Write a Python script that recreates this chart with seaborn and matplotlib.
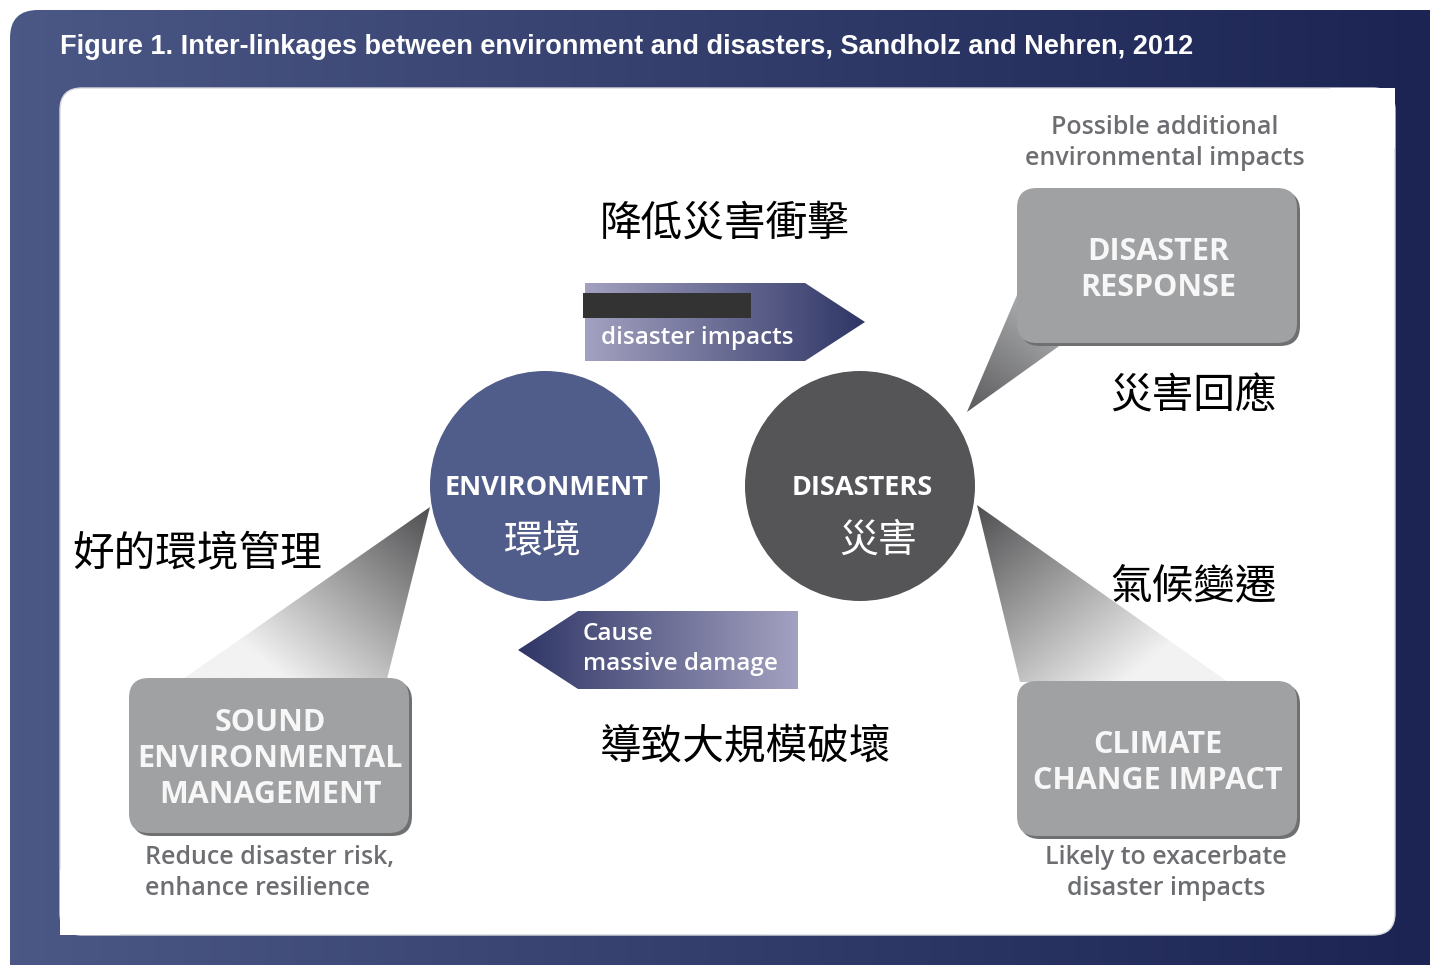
import numpy as np
import matplotlib
matplotlib.use("Agg")
import matplotlib.pyplot as plt
from matplotlib.patches import Polygon, Circle, FancyBboxPatch, Rectangle
import seaborn as sns

# Text content of the diagram
title = "Figure 1. Inter-linkages between environment and disasters, Sandholz and Nehren, 2012"
circle_labels = ["ENVIRONMENT", "DISASTERS"]
circle_labels_zh = ["環境", "災害"]
box_labels = ["DISASTER\nRESPONSE", "SOUND\nENVIRONMENTAL\nMANAGEMENT", "CLIMATE\nCHANGE IMPACT"]
box_captions = ["Possible additional\nenvironmental impacts",
                "Reduce disaster risk,\nenhance resilience",
                "Likely to exacerbate\ndisaster impacts"]
arrow_labels = ["disaster impacts", "Cause\nmassive damage"]
zh_labels = ["降低災害衝擊", "災害回應", "好的環境管理", "氣候變遷", "導致大規模破壞"]

sns.set_style("white")
plt.rcParams["font.family"] = ["Open Sans", "DejaVu Sans"]
ZH = ["Noto Sans CJK TC", "DejaVu Sans"]

fig = plt.figure(figsize=(14.3, 9.65), dpi=100)
ax = fig.add_axes([0, 0, 1, 1])
ax.axis("off")


def gradient_fill(patch, c0, c1, p0, p1, z):
    ax.add_patch(patch)
    ext = patch.get_path().get_extents(patch.get_patch_transform())
    x0, y0, x1, y1 = ext.x0, ext.y0, ext.x1, ext.y1
    gx, gy = np.meshgrid(np.linspace(x0, x1, 300), np.linspace(y0, y1, 300))
    d = np.array(p1, float) - np.array(p0, float)
    t = ((gx - p0[0]) * d[0] + (gy - p0[1]) * d[1]) / (d @ d)
    cmap = sns.blend_palette([c0, c1], as_cmap=True)
    im = ax.imshow(np.clip(t, 0, 1), extent=(x0, x1, y1, y0), origin="upper",
                   cmap=cmap, vmin=0, vmax=1, aspect="auto", zorder=z,
                   interpolation="bilinear")
    im.set_clip_path(patch)


# outer navy frame
outer = FancyBboxPatch((10, 10), 1500, 1000, boxstyle="round,pad=0,rounding_size=28",
                       facecolor="none", edgecolor="none")
gradient_fill(outer, "#4b5785", "#1b2452", (10, 0), (1430, 0), 1)

# inner white panel (rounded top-left / bottom-right)
ax.add_patch(FancyBboxPatch((60, 88), 1335, 847, boxstyle="round,pad=0,rounding_size=22",
                            facecolor="white", edgecolor="#d8d9de", lw=1, zorder=2))
ax.add_patch(Rectangle((1330, 88), 65, 60, facecolor="white", edgecolor="none", zorder=2))
ax.add_patch(Rectangle((60, 870), 60, 65, facecolor="white", edgecolor="none", zorder=2))

ax.text(60, 47, title, color="white", fontsize=19.5, fontweight="bold",
        family=["Liberation Sans Narrow", "Liberation Sans"], va="center", ha="left", zorder=5)

# light beams
beams = [
    ([(967, 412), (1020, 288), (1062, 344)], "#5a5a5c", "#a7a8aa", (967, 412), (1040, 316)),
    ([(430, 507), (183, 679), (387, 679)], "#4f4f51", "#f2f2f2", (430, 507), (285, 679)),
    ([(977, 505), (1020, 682), (1228, 682)], "#4f4f51", "#f2f2f2", (977, 505), (1124, 682)),
]
for verts, c0, c1, p0, p1 in beams:
    gradient_fill(Polygon(verts, closed=True, facecolor="none", edgecolor="none"),
                  c0, c1, p0, p1, 3)

# gray boxes
boxes = [(1017, 188), (129, 678), (1017, 681)]
for (bx, by), label in zip(boxes, box_labels):
    ax.add_patch(FancyBboxPatch((bx + 3, by + 3), 280, 155,
                                boxstyle="round,pad=0,rounding_size=20",
                                facecolor="#6f7072", edgecolor="none", zorder=4))
    ax.add_patch(FancyBboxPatch((bx, by), 280, 155,
                                boxstyle="round,pad=0,rounding_size=20",
                                facecolor="#a0a1a3", edgecolor="none", zorder=4))
    n = label.count("\n") + 1
    cy = by + 81 if n == 3 else by + 82
    ax.text(bx + 141, cy, label, color="#f7f7f7", fontsize=22, fontweight="bold",
            ha="center", va="center", linespacing=1.28, zorder=6)

caption_pos = [(1165, 143, "center"), (145, 873, "left"), (1166, 873, "center")]
for (cx, cy, ha), cap in zip(caption_pos, box_captions):
    ax.text(cx, cy, cap, color="#6d6e71", fontsize=18, fontweight="semibold",
            ha=ha, va="center", multialignment=ha, linespacing=1.3, zorder=6)

# circles
circles = [((545, 486), "#505c8a"), ((860, 486), "#555557")]
for ((cx, cy), col), en in zip(circles, circle_labels):
    ax.add_patch(Circle((cx, cy), 115, facecolor=col, edgecolor="none", zorder=5))
    ax.text(cx + 2, cy + 2, en, color="white", fontsize=19.5, fontweight="bold",
            ha="center", va="center", zorder=6)
dx = [-2, 18]
for ((cx, cy), col), zh, off in zip(circles, circle_labels_zh, dx):
    ax.text(cx + off, cy + 55, zh, color="white", fontsize=28, fontweight="light",
            family=ZH, ha="center", va="center", zorder=6)

# arrows
top_arrow = Polygon([(585, 283), (805, 283), (865, 322), (805, 361), (585, 361)],
                    closed=True, facecolor="none", edgecolor="none")
gradient_fill(top_arrow, "#a3a1c0", "#2f3666", (585, 0), (865, 0), 4)
ax.add_patch(Rectangle((583, 293), 168, 25, facecolor="#333333", edgecolor="none", zorder=6))
ax.text(601, 338, arrow_labels[0], color="white", fontsize=17.5, fontweight="semibold",
        ha="left", va="center", zorder=6)

bottom_arrow = Polygon([(798, 611), (578, 611), (518, 650), (578, 689), (798, 689)],
                       closed=True, facecolor="none", edgecolor="none")
gradient_fill(bottom_arrow, "#2f3666", "#a3a1c0", (518, 0), (798, 0), 4)
ax.text(583, 649, arrow_labels[1], color="white", fontsize=17.5, fontweight="semibold",
        ha="left", va="center", linespacing=1.3, zorder=6)

# chinese annotations
zh_pos = [(600, 224), (1110, 397), (72, 555), (1110, 587), (600, 747)]
for (zx, zy), s in zip(zh_pos, zh_labels):
    ax.text(zx, zy, s, color="black", fontsize=30, fontweight="light", family=ZH,
            ha="left", va="center", zorder=7)

ax.set_xlim(0, 1430)
ax.set_ylim(965, 0)
fig.savefig("out.png", dpi=100, facecolor="white")
